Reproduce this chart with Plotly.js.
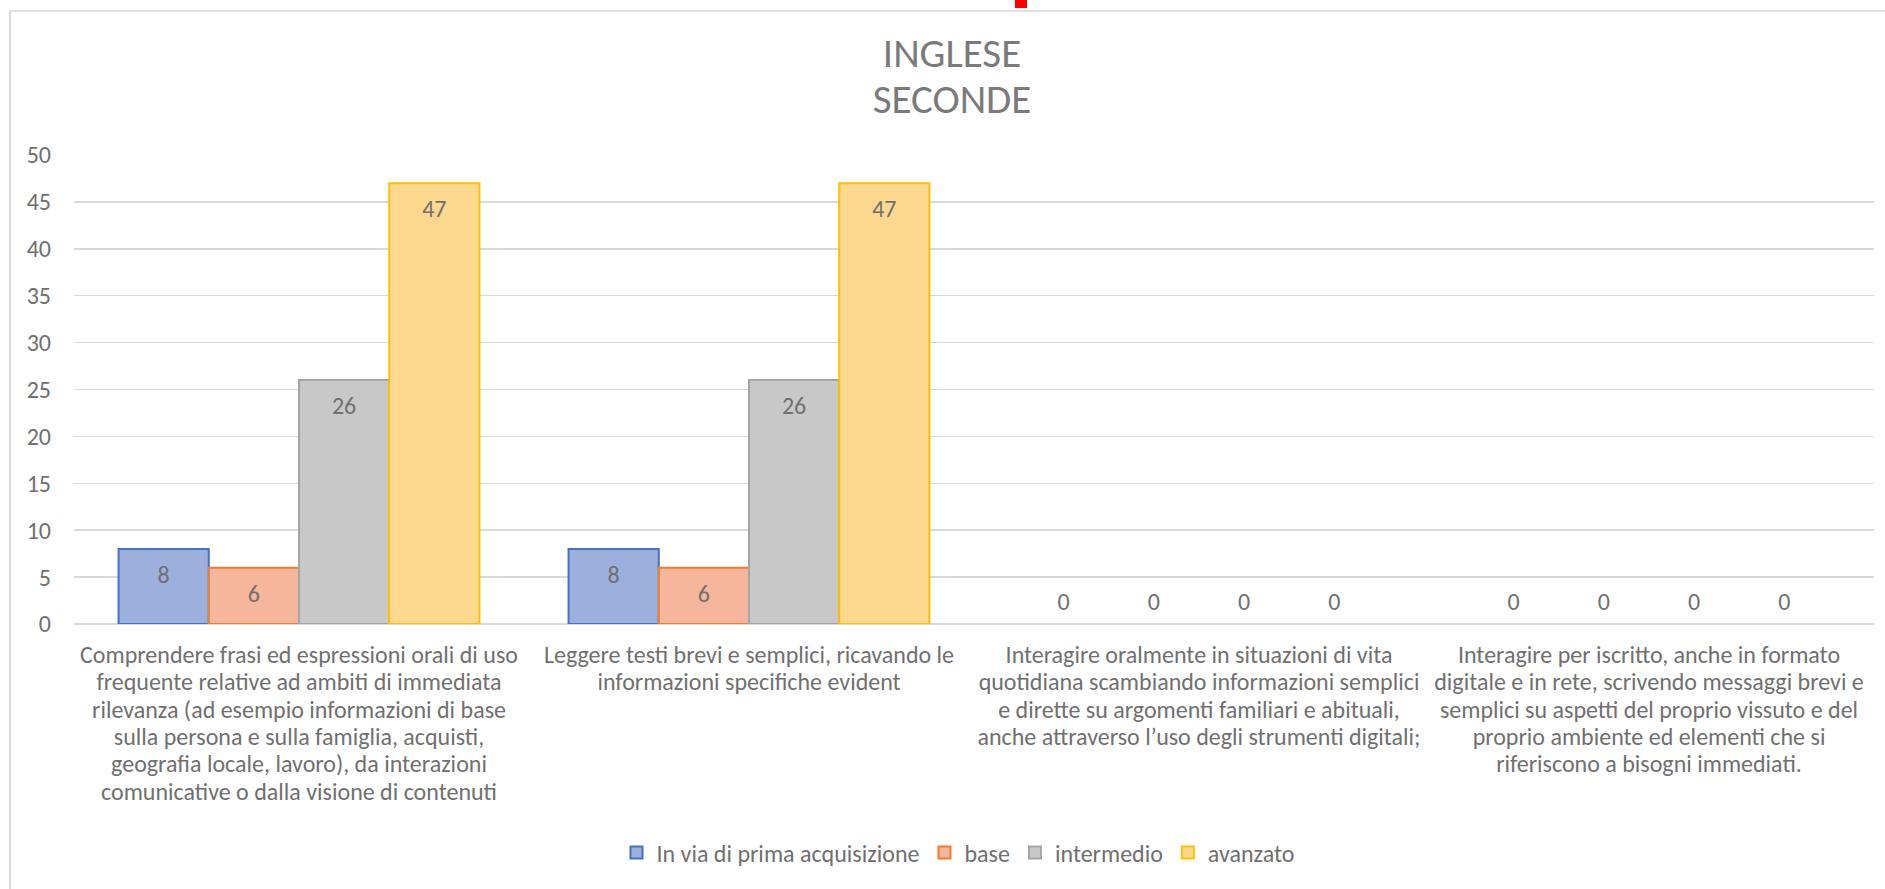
<!DOCTYPE html>
<html>
<head>
<meta charset="utf-8">
<script src="https://cdn.plot.ly/plotly-3.0.1.min.js"></script>
<style>
  html, body { margin: 0; padding: 0; background: #ffffff; }
  #chart { width: 1885px; height: 889px; }
</style>
</head>
<body>
<div id="chart"></div>
<script>
// ---- data ----
const categories = [
  "Comprendere frasi ed espressioni orali di uso<br>frequente relative ad ambiti di immediata<br>rilevanza (ad esempio informazioni di base<br>sulla persona e sulla famiglia, acquisti,<br>geografia locale, lavoro), da interazioni<br>comunicative o dalla visione di contenuti",
  "Leggere testi brevi e semplici, ricavando le<br>informazioni specifiche evident",
  "Interagire oralmente in situazioni di vita<br>quotidiana scambiando informazioni semplici<br>e dirette su argomenti familiari e abituali,<br>anche attraverso l’uso degli strumenti digitali;",
  "Interagire per iscritto, anche in formato<br>digitale e in rete, scrivendo messaggi brevi e<br>semplici su aspetti del proprio vissuto e del<br>proprio ambiente ed elementi che si<br>riferiscono a bisogni immediati."
];
const seriesNames = ["In via di prima acquisizione", "base", "intermedio", "avanzato"];
const inViaDiPrimaAcquisizione = [8, 8, 0, 0];
const base = [6, 6, 0, 0];
const intermedio = [26, 26, 0, 0];
const avanzato = [47, 47, 0, 0];
const yTicks = [0, 5, 10, 15, 20, 25, 30, 35, 40, 45, 50];
const titleLines = ["INGLESE", "SECONDE"];

// ---- style ----
const FONT = "Carlito, 'Liberation Sans Narrow', 'Open Sans', sans-serif";
const TXT = "#707070";
const fills = ["#9dafdc", "#f5b69b", "#c8c8c8", "#fdd88e"];
const lines = ["#4472c4", "#ed7d31", "#a5a5a5", "#ffc000"];
const seriesValues = [inViaDiPrimaAcquisizione, base, intermedio, avanzato];
const big = s => '<span style="font-size:24px">' + s + '</span>';
// label text: inside labels get a small spacer line above, outside (zero) labels a tiny one below
const labelText = v => v > 0 ? "\u00a0<br>" + big(String(v)) : big(String(v)) + "<br>\u00a0";

const traces = seriesNames.map((name, i) => ({
  type: "bar",
  name: name,
  x: categories,
  y: seriesValues[i],
  text: seriesValues[i].map(labelText),
  textposition: seriesValues[i].map(v => v > 0 ? "inside" : "outside"),
  insidetextanchor: "end",
  textangle: 0,
  constraintext: "none",
  insidetextfont: { family: FONT, size: 14, color: TXT },
  outsidetextfont: { family: FONT, size: 7, color: TXT },
  marker: {
    color: fills[i],
    line: { color: lines[i], width: seriesValues[i].map(v => v > 0 ? 2 : 0) }
  },
  cliponaxis: false,
  hoverinfo: "skip"
}));

// pixel geometry helpers (figure 1885x889, plot 74..1874 x 155..624)
const W = 1885, H = 889, L = 74, R = 11, T = 155, B = 265;
const pw = W - L - R, ph = H - T - B;
const px = v => (v - L) / pw;
const py = v => (H - B - v) / ph;

const layout = {
  width: W, height: H,
  margin: { l: L, r: R, t: T, b: B, pad: 0 },
  paper_bgcolor: "#ffffff",
  plot_bgcolor: "#ffffff",
  font: { family: FONT, size: 24, color: TXT },
  title: {
    text: titleLines.map(s => '<span style="font-size:41px">' + s + '</span>').join("<br>"),
    font: { family: FONT, size: 35, color: "#7a7a7a" },
    x: 952 / W, xanchor: "center",
    y: 1 - 67 / H, yanchor: "middle",
    xref: "container", yref: "container"
  },
  barmode: "group",
  bargap: 0.198,
  bargroupgap: 0,
  showlegend: true,
  legend: {
    orientation: "h",
    x: px(958), xanchor: "center",
    y: py(853), yanchor: "middle",
    font: { family: FONT, size: 24, color: TXT },
    itemsizing: "constant",
    traceorder: "normal"
  },
  xaxis: {
    type: "category",
    tickvals: categories,
    ticktext: categories.map(c => c.split("<br>").map(big).join("<br>")),
    showgrid: false,
    showline: false,
    zeroline: false,
    ticks: "",
    tickangle: 0,
    automargin: false,
    tickfont: { family: FONT, size: 21, color: TXT },
    ticklabelstandoff: 17
  },
  yaxis: {
    range: [0, 50],
    tickvals: yTicks,
    ticktext: yTicks.map(String),
    showgrid: true,
    gridcolor: "#d9d9d9",
    gridwidth: 1.5,
    zeroline: true,
    zerolinecolor: "#d9d9d9",
    zerolinewidth: 2,
    showline: false,
    ticks: "",
    automargin: false,
    tickfont: { family: FONT, size: 24, color: TXT },
    ticklabelstandoff: 22
  },
  shapes: [
    { type: "line", xref: "paper", yref: "paper", x0: px(10), x1: px(10), y0: py(889), y1: py(11),
      line: { color: "#d9d9d9", width: 2 }, layer: "below" },
    { type: "line", xref: "paper", yref: "paper", x0: px(10), x1: px(1885), y0: py(11), y1: py(11),
      line: { color: "#d9d9d9", width: 1.5 }, layer: "below" },
    { type: "rect", xref: "paper", yref: "paper", x0: px(1015), x1: px(1027), y0: py(8), y1: py(0),
      fillcolor: "#ff0000", line: { width: 0 }, layer: "above" }
  ]
};

Plotly.newPlot("chart", traces, layout, { staticPlot: true, displayModeBar: false });
</script>
</body>
</html>
